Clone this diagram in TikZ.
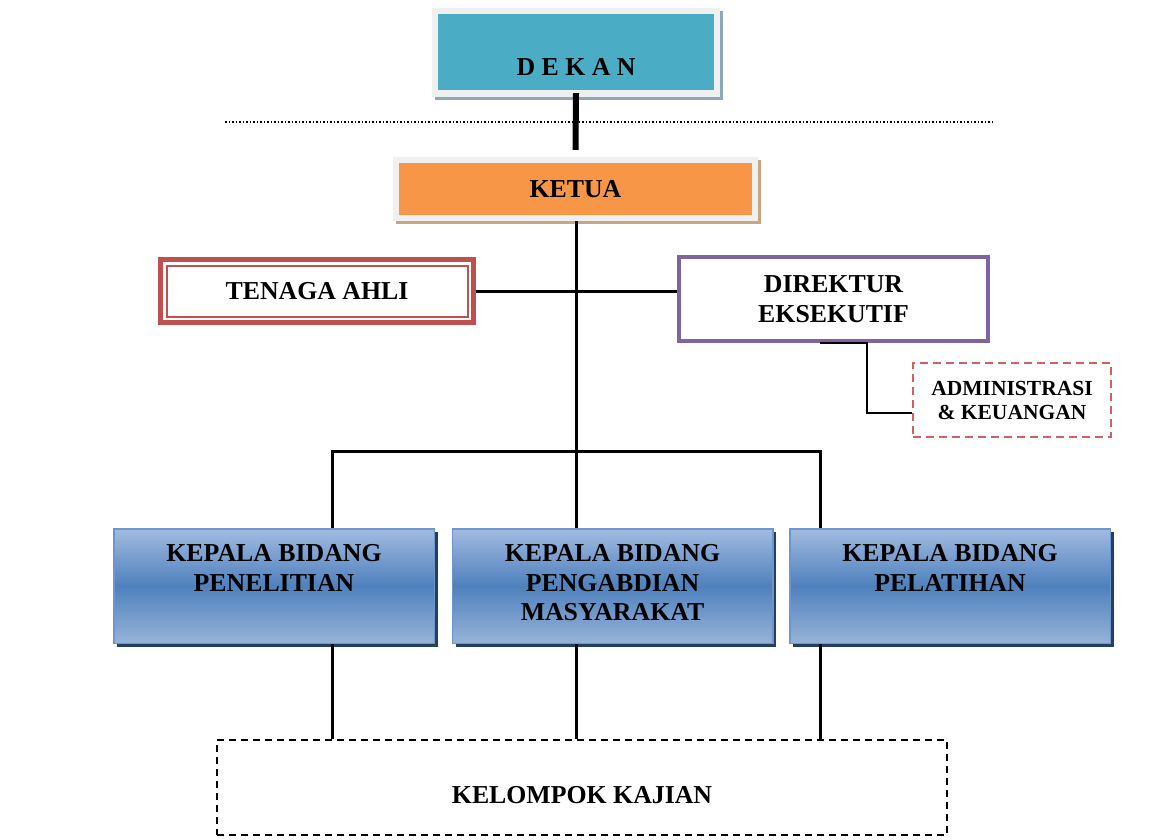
\documentclass[tikz,border=0pt]{standalone}
\usepackage{fontspec}
\setmainfont{Liberation Serif}
\usetikzlibrary{shadows}
\definecolor{teal1}{HTML}{4BACC6}
\definecolor{dekanshadow}{HTML}{8EA9B6}
\definecolor{framegray}{HTML}{F0F0F0}
\definecolor{orange1}{HTML}{F79646}
\definecolor{ketuashadow}{HTML}{C9A583}
\definecolor{red1}{HTML}{C0504D}
\definecolor{purple1}{HTML}{8064A2}
\definecolor{adminred}{HTML}{D35F5F}
\definecolor{ktop}{HTML}{A1BBE1}
\definecolor{kmid}{HTML}{4F81BD}
\definecolor{kbot}{HTML}{95B3D7}
\definecolor{kborder}{HTML}{6E95CC}
\definecolor{kshadow}{HTML}{243F60}
\begin{document}
\begin{tikzpicture}[x=1pt,y=-1pt,
  txt/.style={font=\fontsize{25.8}{29.5}\selectfont\bfseries, align=center, inner sep=0pt, text=black},
  conn/.style={line width=3pt, black},
  outerframe/.style={rectangle, fill=framegray, inner sep=0pt},
  kbox/.style={rectangle, draw=kborder, line width=1.5pt, top color=ktop, bottom color=kbot, middle color=kmid,
    minimum width=320.5pt, minimum height=114.5pt, inner sep=0pt,
    drop shadow={shadow xshift=3.5pt, shadow yshift=-3.5pt, fill=kshadow, opacity=1}}]
\useasboundingbox (0,0) rectangle (1162,840);
\fill[white] (0,0) rectangle (1162,840);

% DEKAN
\node[outerframe, minimum width=288pt, minimum height=89pt,
  drop shadow={shadow xshift=3pt, shadow yshift=-3pt, fill=dekanshadow, opacity=1}] (dekanframe) at (576,52.5) {};
\node[rectangle, fill=teal1, minimum width=276pt, minimum height=76pt, inner sep=0pt] (dekan) at (576,52) {};
\node[txt] (dekantext) at ([yshift=-15pt]dekan.center) {D E K A N};

% KETUA
\node[outerframe, minimum width=365pt, minimum height=64pt,
  drop shadow={shadow xshift=3pt, shadow yshift=-3pt, fill=ketuashadow, opacity=1}] (ketuaframe) at (575.5,189) {};
\node[rectangle, fill=orange1, minimum width=353pt, minimum height=52pt, txt] (ketua) at (575.5,189) {KETUA};

% dotted separator
\coordinate (dl) at (225,122);
\coordinate (dr) at (993,122);
\draw[line width=1.5pt, dash pattern=on 1.5pt off 2pt] (dl) -- (dr);
\draw[line width=6pt] ([yshift=-3pt]dekan.south) -- ([yshift=7pt]ketuaframe.north);

% TENAGA AHLI
\node[draw=red1, line width=5pt, minimum width=313pt, minimum height=63pt, txt] (tenaga) at (317,291) {TENAGA AHLI};
\draw[red1, line width=2pt] ([shift={(8.5,8.5)}]tenaga.north west) rectangle ([shift={(-8.5,-8.5)}]tenaga.south east);

% DIREKTUR
\node[draw=purple1, line width=4pt, minimum width=309pt, minimum height=84pt, txt] (direktur) at (833.5,299) {DIREKTUR\\EKSEKUTIF};

% ADMIN
\node[draw=adminred, line width=2pt, dash pattern=on 8pt off 5pt, minimum width=198pt, minimum height=74pt,
  font=\fontsize{21.5}{24}\selectfont\bfseries, align=center, inner sep=0pt] (admin) at (1012,400) {ADMINISTRASI\\\& KEUANGAN};

% KEPALA boxes
\node[kbox] (k1) at (274,586) {};
\node[kbox] (k2) at (612.5,586) {};
\node[kbox] (k3) at (950,586) {};
\node[txt, anchor=north] (k1t) at ([yshift=-16.5pt]k1.north) {KEPALA BIDANG\\PENELITIAN};
\node[txt, anchor=north] (k2t) at ([yshift=-16.5pt]k2.north) {KEPALA BIDANG\\PENGABDIAN\\MASYARAKAT};
\node[txt, anchor=north] (k3t) at ([yshift=-16.5pt]k3.north) {KEPALA BIDANG\\PELATIHAN};

% KELOMPOK KAJIAN
\node[draw, line width=1.8pt, dash pattern=on 7pt off 5pt, minimum width=730pt, minimum height=95pt] (kel) at (582,787.5) {};
\node[txt] (keltext) at ([yshift=-7.5pt]kel.center) {KELOMPOK KAJIAN};

% connectors
\coordinate (b1) at (332,451);
\coordinate (b2) at (576,451);
\coordinate (b3) at (820,451);
\draw[conn] (b2 |- ketuaframe.south) -- (b2);
\draw[conn] (tenaga.east) -- (tenaga.east -| direktur.west);
\draw[conn, line cap=rect] (b1) -- (b3);
\draw[conn] (b1) -- (b1 |- k1.north);
\draw[conn] (b2) -- (b2 |- k2.north);
\draw[conn] (b3) -- (b3 |- k3.north);
\draw[conn] (b1 |- k1.south) -- (b1 |- kel.north);
\draw[conn] (b2 |- k2.south) -- (b2 |- kel.north);
\draw[conn] (b3 |- k3.south) -- (b3 |- kel.north);
\draw[line width=2pt] ([xshift=-13.5pt]direktur.south) -- ++(47,0) |- ([yshift=-13pt]admin.west);
\end{tikzpicture}
\end{document}
